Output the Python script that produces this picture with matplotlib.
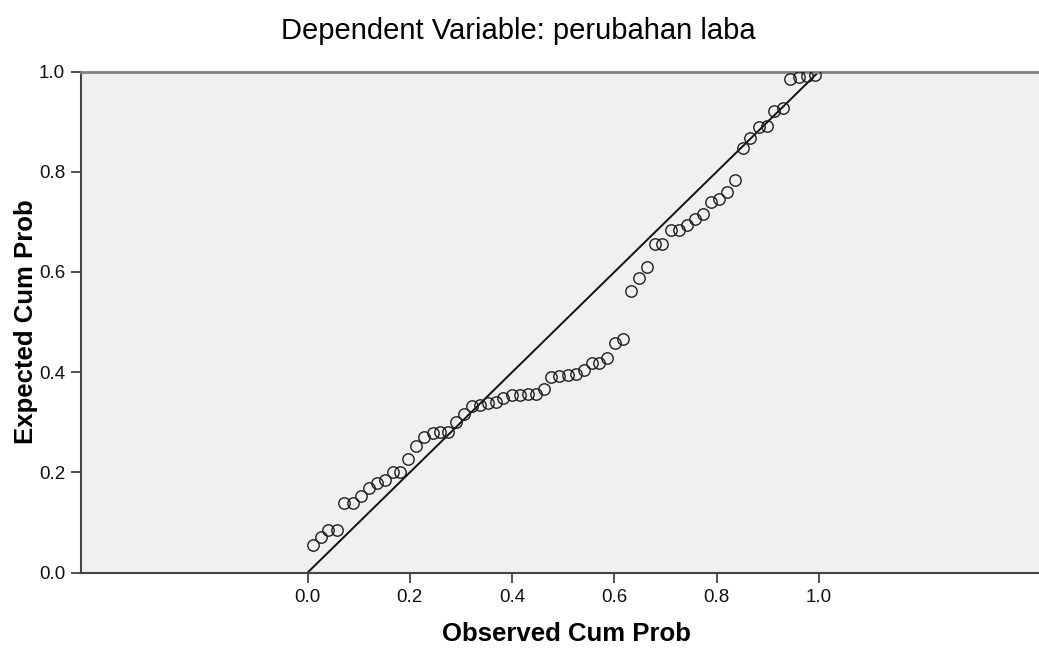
import numpy as np
import matplotlib.pyplot as plt

plt.rcParams['font.family'] = ['Liberation Sans', 'DejaVu Sans']

# observed and expected cumulative probabilities
observed = [0.010, 0.026, 0.041, 0.057, 0.072, 0.088, 0.104, 0.120, 0.135, 0.152,
            0.168, 0.181, 0.197, 0.212, 0.228, 0.245, 0.259, 0.275, 0.290, 0.305,
            0.321, 0.337, 0.353, 0.368, 0.383, 0.400, 0.415, 0.431, 0.447, 0.462,
            0.477, 0.492, 0.509, 0.525, 0.541, 0.556, 0.570, 0.586, 0.601, 0.617,
            0.632, 0.649, 0.664, 0.679, 0.694, 0.710, 0.726, 0.741, 0.758, 0.774,
            0.789, 0.804, 0.820, 0.836, 0.851, 0.866, 0.883, 0.898, 0.912, 0.929,
            0.943, 0.960, 0.976, 0.992]
expected = [0.055, 0.071, 0.085, 0.085, 0.139, 0.139, 0.153, 0.168, 0.178, 0.184,
            0.200, 0.200, 0.226, 0.253, 0.271, 0.278, 0.281, 0.281, 0.300, 0.316,
            0.333, 0.335, 0.338, 0.341, 0.348, 0.355, 0.355, 0.356, 0.356, 0.366,
            0.391, 0.393, 0.394, 0.396, 0.405, 0.418, 0.418, 0.429, 0.458, 0.466,
            0.563, 0.588, 0.609, 0.655, 0.655, 0.683, 0.683, 0.694, 0.705, 0.716,
            0.739, 0.745, 0.760, 0.784, 0.847, 0.867, 0.890, 0.892, 0.922, 0.928,
            0.985, 0.990, 0.992, 0.993]
ref_line = [0.0, 1.0]
ticks = [0.0, 0.2, 0.4, 0.6, 0.8, 1.0]

fig = plt.figure(figsize=(10.39, 6.51), dpi=100)
ax = fig.add_axes([81 / 1039, (651 - 572.7) / 651, 1 - 81 / 1039, (572.7 - 71.5) / 651])
ax.set_facecolor('#f0f0f0')

ax.plot(ref_line, ref_line, color='#111111', lw=1.4, zorder=2)
ax.plot(observed, expected, 'o', mfc='none', mec='#1e1e1e', ms=8.2, mew=1.0, zorder=3)

ax.set_xlim((81 - 307.5) / 511.5, (1039 - 307.5) / 511.5)
ax.set_ylim(0, 1)
ax.set_xticks(ticks)
ax.set_yticks(ticks)
ax.set_xticklabels([f'{t:.1f}' for t in ticks])
ax.set_yticklabels([f'{t:.1f}' for t in ticks])
ax.tick_params(axis='both', length=7.5, width=1.3, color='#444444', labelsize=13.5,
               labelcolor='#111111', pad=4)

ax.spines['left'].set_color('#444444')
ax.spines['left'].set_linewidth(1.5)
ax.spines['bottom'].set_color('#444444')
ax.spines['bottom'].set_linewidth(1.5)
ax.spines['top'].set_color('#808080')
ax.spines['top'].set_linewidth(2)
ax.spines['right'].set_visible(False)

fig.text(518 / 1039, 1 - 31 / 651, 'Dependent Variable: perubahan laba', ha='center', va='center',
         fontsize=21)
fig.text(566 / 1039, 1 - 634 / 651, 'Observed Cum Prob', ha='center', va='center',
         fontsize=18.5, fontweight='bold')
fig.text(26 / 1039, 1 - 322 / 651, 'Expected Cum Prob', ha='center', va='center',
         rotation=90, fontsize=18.5, fontweight='bold')

fig.savefig('out.png', dpi=100)
